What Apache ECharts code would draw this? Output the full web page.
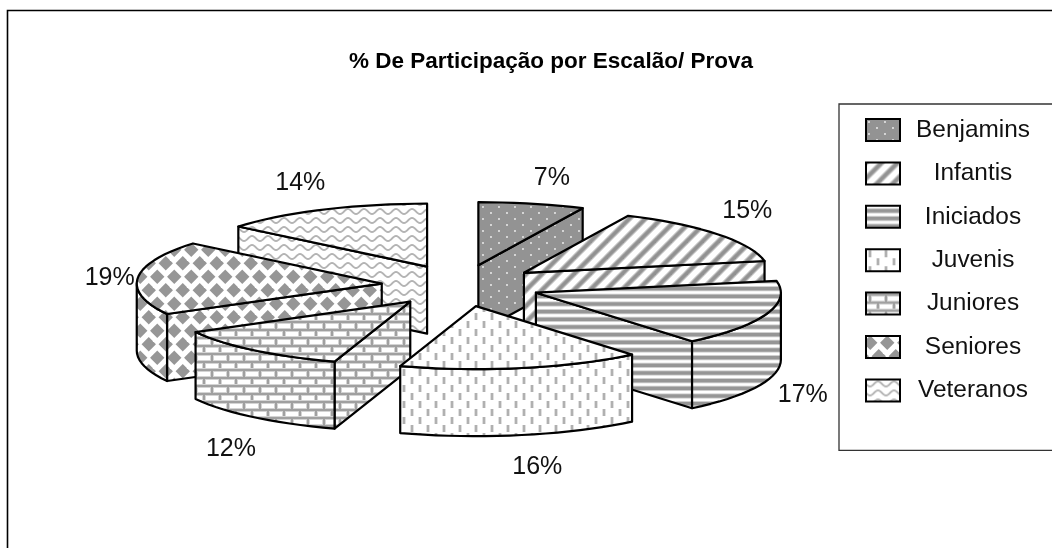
<!DOCTYPE html>
<html>
<head>
<meta charset="utf-8">
<style>html,body{margin:0;padding:0;background:#fff}#c{width:1052px;height:548px}</style>
<script src="https://cdn.jsdelivr.net/npm/echarts@6/dist/echarts.min.js"></script>
</head>
<body>
<div id="c"></div>
<script>
const titleText = '% De Participação por Escalão/ Prova';
const categories = ['Benjamins', 'Infantis', 'Iniciados', 'Juvenis', 'Juniores', 'Seniores', 'Veteranos'];
const percentages = [7, 15, 17, 16, 12, 19, 14];

// layout of the projected, exploded pie
const CX = 461, CY = 285.6, RX = 245, RY = 63, DEPTH = 67, EXPLODE_X = 79.6, EXPLODE_Y = 20.9;
const LABEL_RX = 375, LABEL_RY = 113.4;
// painter's order (back to front), one rank per category
const paintRank = [1, 3, 5, 7, 6, 4, 2];
// fine adjustment of each percentage label from its radial anchor
const labelNudge = [[9, 3], [-10, -5], [-11, 48], [6, 4], [9, 25], [22, 3], [-1, 0]];
const FONT = '"Liberation Sans", Arial, sans-serif';

function tile(w, h, draw) {
  const cv = document.createElement('canvas');
  cv.width = w; cv.height = h;
  const g = cv.getContext('2d');
  g.fillStyle = '#fff'; g.fillRect(0, 0, w, h);
  draw(g, w, h);
  return { image: cv, repeat: 'repeat' };
}
const GRAY = '#969696';
const patterns = [
  tile(16, 12, g => { // dots
    g.fillStyle = '#939393'; g.fillRect(0, 0, 16, 12);
    g.fillStyle = '#e6e6e6';
    [[3, 3], [11, 9]].forEach(p => { g.beginPath(); g.arc(p[0], p[1], 1.05, 0, 7); g.fill(); });
  }),
  tile(16, 16, g => { // rising diagonals
    [['#bdbdbd', 5.6], ['#929292', 3.2]].forEach(st => {
      g.strokeStyle = st[0]; g.lineWidth = st[1];
      [-16, 0, 16, 32].forEach(o => { g.beginPath(); g.moveTo(o - 2, 18); g.lineTo(o + 18, -2); g.stroke(); });
    });
  }),
  tile(8, 23, g => { // horizontal bands, three per tile
    [5, 12.67, 20.33].forEach(y => {
      g.fillStyle = '#cfcfcf'; g.fillRect(0, y - 2.6, 8, 5.2);
      g.fillStyle = GRAY; g.fillRect(0, y - 1.7, 8, 3.4);
    });
  }),
  tile(16, 16, g => { // short vertical dashes
    g.fillStyle = '#b0b0b0';
    g.fillRect(3, 1, 2, 7); g.fillRect(11, 9, 2, 7);
    g.fillStyle = '#e0e0e0';
    g.fillRect(2, 1, 1, 7); g.fillRect(5, 1, 1, 7); g.fillRect(10, 9, 1, 7); g.fillRect(13, 9, 1, 7);
  }),
  tile(16, 16, g => { // bricks
    g.fillStyle = '#d4d4d4';
    g.fillRect(0, 0, 16, 4); g.fillRect(0, 8, 16, 4);
    g.fillRect(2, 0, 4, 8); g.fillRect(10, 8, 4, 8);
    g.fillStyle = '#a0a0a0';
    g.fillRect(0, 1, 16, 2); g.fillRect(0, 9, 16, 2);
    g.fillRect(3, 1, 2, 8); g.fillRect(11, 9, 2, 8);
  }),
  tile(17, 27, g => { // diamonds
    g.fillStyle = GRAY;
    const r = 7.2;
    [[4.25, 6.75], [12.75, 20.25], [21.25, 6.75], [-4.25, 20.25], [4.25, 33.75], [12.75, -6.75]].forEach(p => {
      g.beginPath();
      g.moveTo(p[0], p[1] - r); g.lineTo(p[0] + r, p[1]); g.lineTo(p[0], p[1] + r); g.lineTo(p[0] - r, p[1]);
      g.closePath(); g.fill();
    });
  }),
  tile(16, 9, g => { // waves
    g.strokeStyle = '#b4b4b4'; g.lineWidth = 1.8;
    g.beginPath();
    for (let k = -2; k <= 18; k++) {
      const y = 4.5 + 2.5 * Math.sin(2 * Math.PI * k / 16);
      if (k === -2) g.moveTo(k, y); else g.lineTo(k, y);
    }
    g.stroke();
  })
];

const total = percentages.reduce((a, b) => a + b, 0);
const startShare = percentages.map((_, i) => percentages.slice(0, i).reduce((a, b) => a + b, 0) / total);
const rad = d => d * Math.PI / 180;

function rimPoint(o, deg, dz) {
  return [o[0] + RX * Math.sin(rad(deg)), o[1] - RY * Math.cos(rad(deg)) + (dz || 0)];
}
function arcPoints(o, a, b, dz) {
  const pts = [];
  const n = Math.max(2, Math.ceil((b - a) / 3));
  for (let i = 0; i <= n; i++) pts.push(rimPoint(o, a + (b - a) * i / n, dz));
  return pts;
}

function renderSlice(params, api) {
  const i = params.seriesIndex;
  const value = api.value(0);
  const a = startShare[i] * 360;
  const b = a + value / total * 360;
  const mid = (a + b) / 2;
  const o = [CX + EXPLODE_X * Math.sin(rad(mid)), CY - EXPLODE_Y * Math.cos(rad(mid))];
  const fill = patterns[i];
  const style = { fill, stroke: '#000', lineWidth: 2.2, lineJoin: 'round' };
  const down = p => [p[0], p[1] + DEPTH];
  const face = pts => ({ type: 'polygon', silent: true, shape: { points: pts }, style });
  const children = [];

  const faces = [];
  // radial cut faces turned towards the viewer
  if (Math.sin(rad(a)) < -1e-6) { const e = rimPoint(o, a); faces.push([o, e, down(e), down(o)]); }
  if (Math.sin(rad(b)) > 1e-6) { const e = rimPoint(o, b); faces.push([o, e, down(e), down(o)]); }
  faces.forEach(f => children.push(face(f)));
  // curved outer wall: only the front half of the rim shows
  const wa = Math.max(a, 90), wb = Math.min(b, 270);
  if (wb > wa) {
    const top = arcPoints(o, wa, wb, 0);
    const bottom = arcPoints(o, wa, wb, DEPTH).reverse();
    children.push(face(top.concat(bottom)));
  }
  // top face
  children.push(face([o].concat(arcPoints(o, a, b, 0))));

  // percentage label
  const s = Math.sin(rad(mid)), c = Math.cos(rad(mid));
  const lx = CX + LABEL_RX * s + labelNudge[i][0];
  const ly = CY - LABEL_RY * c + (c < 0 ? -c * DEPTH : 0) + labelNudge[i][1];
  children.push({
    type: 'text', silent: true, z2: 50,
    style: {
      x: lx, y: ly, text: value + '%', fill: '#111',
      font: '25px ' + FONT,
      align: 'center', verticalAlign: 'middle'
    }
  });
  return { type: 'group', children };
}

const chart = echarts.init(document.getElementById('c'), null, { renderer: 'canvas' });
chart.setOption({
  animation: false,
  backgroundColor: '#fff',
  title: {
    text: titleText,
    left: 349, top: 50,
    padding: 0,
    textStyle: { fontFamily: FONT, fontSize: 22.5, fontWeight: 'bold', color: '#000', lineHeight: 24 }
  },
  legend: {
    orient: 'vertical',
    left: 839, top: 104,
    backgroundColor: '#fff',
    borderColor: '#333', borderWidth: 1.3, borderRadius: 0,
    padding: [14, 60, 48, 26],
    icon: 'rect',
    itemWidth: 34, itemHeight: 22,
    itemGap: 19.4,
    selectedMode: false,
    itemStyle: { borderColor: '#000', borderWidth: 2 },
    data: categories,
    formatter: n => '{t|' + n + '}',
    textStyle: {
      rich: {
        t: { width: 136, height: 22, lineHeight: 22, align: 'center', fontSize: 24.4, color: '#111', fontFamily: FONT }
      }
    }
  },
  graphic: [
    { type: 'polyline', silent: true, z: 0,
      shape: { points: [[7.5, 548], [7.5, 10.5], [1052, 10.5]] },
      style: { stroke: '#000', lineWidth: 1.6, fill: null } }
  ],
  series: categories.map((name, i) => ({
    type: 'custom',
    name,
    coordinateSystem: 'none',
    z: 2 + paintRank[i],
    silent: true,
    itemStyle: { color: patterns[i] },
    renderItem: renderSlice,
    data: [[percentages[i]]]
  }))
});
</script>
</body>
</html>
